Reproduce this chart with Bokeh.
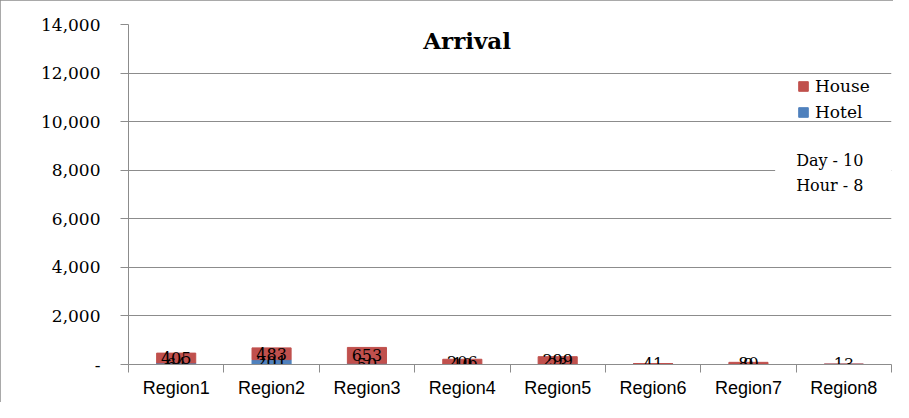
from bokeh.plotting import figure
from bokeh.models import (ColumnDataSource, Range1d, FixedTicker, NumeralTickFormatter,
                          Label, Legend, LegendItem, BoxAnnotation)
from bokeh.embed import file_html
from bokeh.resources import INLINE
from bokeh.core.properties import value

# ---- data ----
regions = ["Region1", "Region2", "Region3", "Region4", "Region5", "Region6", "Region7", "Region8"]
house = [405, 483, 653, 206, 299, 0, 80, 0]
hotel = [64, 201, 50, 10, 23, 41, 9, 13]
y_ticks = [0, 2000, 4000, 6000, 8000, 10000, 12000, 14000]
title_text = "Arrival"
info_lines = ["Day - 10", "Hour - 8"]

RED = "#C0504D"
BLUE = "#4F81BD"
GRID = "#8c8c8c"
SERIF = "DejaVu Serif"

n = len(regions)
centers = [i + 0.5 for i in range(n)]
bounds = list(range(n + 1))

src = ColumnDataSource(dict(x=centers, hotel=hotel, house=house))

p = figure(width=893, height=402, output_backend="svg", toolbar_location=None,
           x_range=Range1d(0, n), y_range=Range1d(0, y_ticks[-1]),
           min_border_left=128, min_border_right=2, min_border_top=24, min_border_bottom=38)
p.outline_line_color = None
p.background_fill_color = "white"
p.border_fill_color = "white"
p.styles = {"outline": "1px solid #8c8c8c", "outline-offset": "-1px"}

r = p.vbar_stack(["hotel", "house"], x="x", width=0.41, color=[BLUE, RED], source=src)

# data labels
lx, ly, lt = [], [], []
for i in range(n):
    if hotel[i]:
        lx.append(centers[i]); ly.append(hotel[i] / 2); lt.append(str(hotel[i]))
    if house[i]:
        lx.append(centers[i]); ly.append(hotel[i] + house[i] / 2); lt.append(str(house[i]))
lab = ColumnDataSource(dict(x=lx, y=ly, t=lt))
p.text(x="x", y="y", text="t", source=lab, text_align="center", text_baseline="middle",
       text_font=value(SERIF), text_font_size="16px", text_color="black")

# axes
p.yaxis.ticker = FixedTicker(ticks=y_ticks)
p.yaxis.formatter = NumeralTickFormatter(format="0,0")
p.yaxis.major_label_overrides = {0: "-"}
p.yaxis.major_label_text_font = SERIF
p.yaxis.major_label_text_font_size = "17px"
p.yaxis.major_label_text_color = "black"
p.yaxis.major_tick_out = 8
p.yaxis.major_tick_in = 0
p.yaxis.minor_tick_line_color = None
p.yaxis.major_label_standoff = 20
p.yaxis.axis_line_color = GRID
p.yaxis.major_tick_line_color = GRID

p.xaxis.ticker = FixedTicker(ticks=centers, minor_ticks=bounds)
p.xaxis.major_label_overrides = {c: regions[i] for i, c in enumerate(centers)}
p.xaxis.major_tick_line_color = None
p.xaxis.major_tick_out = 0
p.xaxis.major_tick_in = 0
p.xaxis.minor_tick_out = 8
p.xaxis.minor_tick_in = 0
p.xaxis.minor_tick_line_color = GRID
p.xaxis.axis_line_color = GRID
p.xaxis.major_label_standoff = 5
p.xaxis.major_label_text_font = "Liberation Sans"
p.xaxis.major_label_text_font_size = "18px"
p.xaxis.major_label_text_color = "black"

p.xgrid.grid_line_color = None
p.ygrid.grid_line_color = GRID
p.ygrid.ticker = FixedTicker(ticks=y_ticks)

# title inside plot
p.add_layout(Label(x=3.55, y=13340, text=title_text, text_font=SERIF, text_font_style="bold",
                   text_font_size="23px", text_align="center", text_baseline="middle",
                   text_color="black"))

# legend
legend = Legend(items=[LegendItem(label="House", renderers=[r[1]]),
                       LegendItem(label="Hotel", renderers=[r[0]])],
                location=(669, 242), padding=0, margin=0, spacing=6,
                glyph_width=12, glyph_height=12, label_height=20, label_standoff=6,
                label_text_font=SERIF, label_text_font_size="17px", label_text_color="black",
                background_fill_alpha=0, border_line_color=None)
p.add_layout(legend)

# info box
p.add_layout(BoxAnnotation(left=6.78, right=n, top=9000, bottom=6835,
                           fill_color="white", fill_alpha=1, line_color=None))
for txt, yy in zip(info_lines, [8400, 7371]):
    p.add_layout(Label(x=7.0, y=yy, text=txt, text_font=SERIF, text_font_size="16px",
                       text_baseline="middle", text_align="left", text_color="black"))

open("out.html", "w").write(file_html(p, INLINE))
